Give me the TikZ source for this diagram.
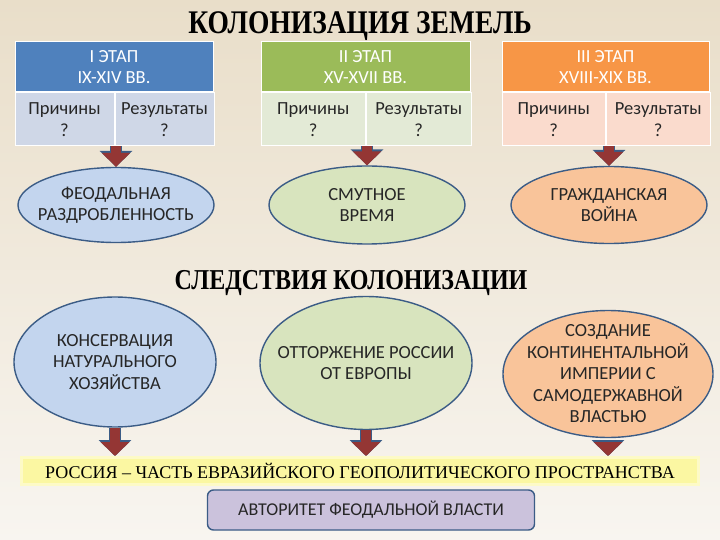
\documentclass[tikz,border=0pt]{standalone}
\usepackage{fontspec}
\setmainfont{Liberation Serif}
\setsansfont{Carlito}
\usepackage{graphicx}
\usetikzlibrary{arrows.meta,positioning,shapes.geometric}
\definecolor{hdrblue}{HTML}{4F81BD}
\definecolor{hdrgreen}{HTML}{9BBB59}
\definecolor{hdrorange}{HTML}{F79646}
\definecolor{cellblue}{HTML}{CFD7E7}
\definecolor{cellgreen}{HTML}{E3EAD6}
\definecolor{cellorange}{HTML}{FADBCD}
\definecolor{ellblue}{HTML}{C3D5EE}
\definecolor{ellgreen}{HTML}{D8E4BE}
\definecolor{ellorange}{HTML}{F9C49A}
\definecolor{rimblue}{HTML}{3B5C86}
\definecolor{arrowred}{HTML}{943634}
\definecolor{bannery}{HTML}{FBF7A2}
\definecolor{lilac}{HTML}{CBC2DC}
\definecolor{paper}{HTML}{E9DEC9}
\definecolor{paperlight}{HTML}{F8F5F0}

\begin{document}
\begin{tikzpicture}[
  x=1pt, y=-1pt,
  body/.style={font=\sffamily\fontsize{18.5}{21.5}\selectfont, align=center, text=black!85},
  heading/.style={font=\bfseries\fontsize{27.5}{30}\selectfont},
  hdr/.style={body, draw=white, line width=1pt, minimum height=50pt, inner sep=0pt, text=white},
  cell/.style={body, draw=white, line width=1pt, minimum height=53pt, inner sep=0pt},
  oval/.style={body, ellipse, draw=rimblue, line width=1.4pt, inner sep=-30pt},
  every edge/.style={draw=arrowred, line width=10pt, -{Triangle[length=14pt,width=28pt]},
    preaction={draw=rimblue, line width=12pt, -{Triangle[length=16pt,width=32pt]}}},
]
\useasboundingbox (0,0) rectangle (720,540);
\fill[top color=paper, bottom color=paperlight] (0,0) rectangle (720,540);

\node[heading] (title) at (360,26) {\scalebox{1}[1.2]{КОЛОНИЗАЦИЯ ЗЕМЕЛЬ}};

% stages
\node[hdr, fill=hdrblue, minimum width=198pt] (hdrA) at (114,67) {I ЭТАП\\IX-XIV ВВ.};
\node[cell, fill=cellblue, minimum width=99pt, anchor=north west] (causeA) at (hdrA.south west) {Причины\\?};
\node[cell, fill=cellblue, minimum width=99pt, right=0pt of causeA] (resA) {Результаты\\?};

\node[hdr, fill=hdrgreen, minimum width=209pt] (hdrB) at (365.5,67) {II ЭТАП\\XV-XVII ВВ.};
\node[cell, fill=cellgreen, minimum width=104.5pt, anchor=north west] (causeB) at (hdrB.south west) {Причины\\?};
\node[cell, fill=cellgreen, minimum width=104.5pt, right=0pt of causeB] (resB) {Результаты\\?};

\node[hdr, fill=hdrorange, minimum width=207pt] (hdrC) at (605.5,67) {III ЭТАП\\XVIII-XIX ВВ.};
\node[cell, fill=cellorange, minimum width=103.5pt, anchor=north west] (causeC) at (hdrC.south west) {Причины\\?};
\node[cell, fill=cellorange, minimum width=103.5pt, right=0pt of causeC] (resC) {Результаты\\?};

% results of the stages
\node[oval, fill=ellblue, minimum width=196pt, minimum height=75pt] (feud) at (116,205) {ФЕОДАЛЬНАЯ\\РАЗДРОБЛЕННОСТЬ};
\node[oval, fill=ellgreen, minimum width=196pt, minimum height=78pt] (trouble) at (367,205) {СМУТНОЕ\\ВРЕМЯ};
\node[oval, fill=ellorange, minimum width=196pt, minimum height=77pt] (civil) at (609,205) {ГРАЖДАНСКАЯ\\ВОЙНА};

\draw (feud.north |- causeA.south) edge (feud.north);
\draw (trouble.north |- causeB.south) edge (trouble.north);
\draw (civil.north |- causeC.south) edge (civil.north);

\node[heading, font=\bfseries\fontsize{24}{28}\selectfont] (conseq) at (351,283) {\scalebox{1}[1.2]{СЛЕДСТВИЯ КОЛОНИЗАЦИИ}};

% consequences
\node[oval, fill=ellblue, minimum width=202pt, minimum height=130pt] (natural) at (115,362) {КОНСЕРВАЦИЯ\\НАТУРАЛЬНОГО\\ХОЗЯЙСТВА};
\node[oval, fill=ellgreen, minimum width=212pt, minimum height=133pt] (apart) at (366,363) {ОТТОРЖЕНИЕ РОССИИ\\ОТ ЕВРОПЫ};
\node[oval, fill=ellorange, minimum width=210pt, minimum height=127pt] (empire) at (608,374) {СОЗДАНИЕ\\КОНТИНЕНТАЛЬНОЙ\\ИМПЕРИИ С\\САМОДЕРЖАВНОЙ\\ВЛАСТЬЮ};

\node[draw=bannery!60, line width=3pt, fill=bannery, minimum width=677pt, minimum height=27pt,
      font=\fontsize{18}{20}\selectfont] (eurasia) at (360,471)
     {РОССИЯ – ЧАСТЬ ЕВРАЗИЙСКОГО ГЕОПОЛИТИЧЕСКОГО ПРОСТРАНСТВА};

\draw (natural.south) edge (natural.south |- eurasia.north);
\draw (apart.south) edge (apart.south |- eurasia.north);
\draw ([yshift=-4pt]empire.south) edge (empire.south |- eurasia.north);

\node[body, draw=rimblue, line width=1.4pt, rounded corners=6pt, fill=lilac,
      minimum width=327pt, minimum height=40pt, font=\sffamily\fontsize{18}{20}\selectfont] (authority) at (371,510)
     {АВТОРИТЕТ ФЕОДАЛЬНОЙ ВЛАСТИ};
\end{tikzpicture}
\end{document}
